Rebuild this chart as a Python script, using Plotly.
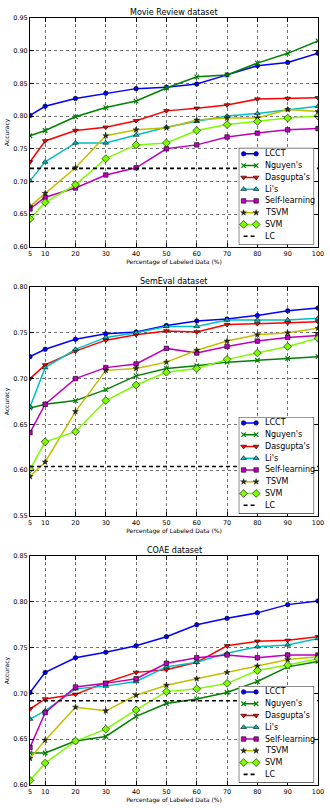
import plotly.graph_objects as go

# ---------------- data ----------------
x_pct = [5, 10, 20, 30, 40, 50, 60, 70, 80, 90, 100]
x_tick_vals = [5, 10, 20, 30, 40, 50, 60, 70, 80, 90, 100]

method_names = ["LCCT", "Nguyen's", "Dasgupta's", "Li's", "Self-learning", "TSVM", "SVM"]
baseline_name = "LC"

movie_lcct = [0.801, 0.815, 0.827, 0.835, 0.842, 0.844, 0.849, 0.863, 0.877, 0.882, 0.896]
movie_nguyen = [0.770, 0.778, 0.799, 0.813, 0.823, 0.843, 0.860, 0.863, 0.881, 0.896, 0.915]
movie_dasgupta = [0.730, 0.762, 0.778, 0.783, 0.793, 0.808, 0.812, 0.817, 0.826, 0.827, 0.828]
movie_li = [0.701, 0.730, 0.759, 0.759, 0.771, 0.783, 0.792, 0.800, 0.804, 0.810, 0.815]
movie_self = [0.658, 0.676, 0.690, 0.710, 0.721, 0.750, 0.756, 0.768, 0.774, 0.779, 0.781]
movie_tsvm = [0.662, 0.682, 0.721, 0.770, 0.779, 0.782, 0.794, 0.797, 0.797, 0.810, 0.807]
movie_svm = [0.643, 0.668, 0.695, 0.735, 0.756, 0.759, 0.778, 0.787, 0.792, 0.797, 0.800]
movie_lc = 0.720

semeval_lcct = [0.724, 0.732, 0.743, 0.749, 0.751, 0.758, 0.763, 0.765, 0.769, 0.774, 0.777]
semeval_nguyen = [0.668, 0.672, 0.676, 0.688, 0.703, 0.711, 0.714, 0.718, 0.720, 0.722, 0.724]
semeval_dasgupta = [0.700, 0.715, 0.730, 0.742, 0.748, 0.752, 0.751, 0.759, 0.760, 0.761, 0.762]
semeval_li = [0.669, 0.712, 0.732, 0.745, 0.750, 0.757, 0.757, 0.764, 0.764, 0.764, 0.766]
semeval_self = [0.641, 0.672, 0.700, 0.712, 0.716, 0.733, 0.728, 0.735, 0.741, 0.745, 0.747]
semeval_tsvm = [0.593, 0.609, 0.664, 0.709, 0.711, 0.718, 0.731, 0.741, 0.748, 0.750, 0.755]
semeval_svm = [0.601, 0.631, 0.642, 0.676, 0.693, 0.707, 0.711, 0.721, 0.728, 0.735, 0.744]
semeval_lc = 0.604

coae_lcct = [0.701, 0.723, 0.739, 0.745, 0.752, 0.762, 0.775, 0.782, 0.788, 0.797, 0.801]
coae_nguyen = [0.635, 0.635, 0.648, 0.653, 0.675, 0.689, 0.694, 0.701, 0.713, 0.729, 0.735]
coae_dasgupta = [0.683, 0.694, 0.699, 0.712, 0.723, 0.726, 0.734, 0.752, 0.757, 0.758, 0.762]
coae_li = [0.672, 0.681, 0.705, 0.708, 0.713, 0.729, 0.734, 0.744, 0.751, 0.753, 0.760]
coae_self = [0.641, 0.679, 0.707, 0.711, 0.716, 0.733, 0.739, 0.742, 0.739, 0.742, 0.742]
coae_tsvm = [0.629, 0.649, 0.685, 0.681, 0.698, 0.709, 0.716, 0.723, 0.730, 0.737, 0.740]
coae_svm = [0.605, 0.624, 0.648, 0.661, 0.682, 0.702, 0.705, 0.711, 0.725, 0.731, 0.738]
coae_lc = 0.692

dataset_titles = ["Movie Review dataset", "SemEval dataset", "COAE dataset"]
dataset_series = [
    [movie_lcct, movie_nguyen, movie_dasgupta, movie_li, movie_self, movie_tsvm, movie_svm],
    [semeval_lcct, semeval_nguyen, semeval_dasgupta, semeval_li, semeval_self, semeval_tsvm, semeval_svm],
    [coae_lcct, coae_nguyen, coae_dasgupta, coae_li, coae_self, coae_tsvm, coae_svm],
]
dataset_lc = [movie_lc, semeval_lc, coae_lc]
dataset_yranges = [(0.60, 0.95), (0.55, 0.80), (0.60, 0.85)]

x_title = "Percentage of Labeled Data (%)"
y_title = "Accuracy"

# ---------------- styles ----------------
colors = ["#0000ff", "#008000", "#ff0000", "#00bfbf", "#bf00bf", "#bfbf00", "#7cfc00"]
symbols = ["circle", "x-thin", "triangle-down", "triangle-up", "square", "star", "diamond"]
msizes = [4.5, 4.5, 5, 5, 4.5, 4.5, 6]
FONT = "DejaVu Sans"

W, H = 330, 808
ML, MR, MT, MB = 26, 6, 18, 21
PH = H - MT - MB
plot_h = 229.5
gap = (PH - 3 * plot_h) / 2

# legend box geometry (pixels, relative to plot area)
plot_w = W - ML - MR
leg_left, leg_right = 216, 294
leg_bottom, leg_top = 2.3, 99.3
leg_h = leg_top - leg_bottom
leg_pad_top, leg_step = 6.0, 11.8
leg_x0, leg_x1, leg_xt = 5 / 78, 18 / 78, 25.5 / 78


def marker_for(i):
    if symbols[i] == "x-thin":
        return dict(symbol="x-thin", size=msizes[i], color=colors[i],
                    line=dict(color=colors[i], width=1.2))
    if symbols[i] == "star":
        return dict(symbol="star", size=msizes[i], color="#2b2b10",
                    line=dict(color="black", width=0.4))
    return dict(symbol=symbols[i], size=msizes[i], color=colors[i],
                line=dict(color="black", width=0.6))


fig = go.Figure()
annotations = []
shapes = []
layout_axes = {}

for k in range(3):
    top_px = k * (plot_h + gap)
    y1 = 1 - top_px / PH
    y0 = y1 - plot_h / PH
    sx = "" if k == 0 else str(k + 1)
    xa, ya = "x" + sx, "y" + sx
    lo, hi = dataset_yranges[k]

    for i, vals in enumerate(dataset_series[k]):
        fig.add_trace(go.Scatter(
            x=x_pct, y=vals, xaxis=xa, yaxis=ya, name=method_names[i],
            mode="lines+markers", showlegend=False,
            line=dict(color=colors[i], width=1.5),
            marker=marker_for(i),
        ))
    fig.add_trace(go.Scatter(
        x=[x_pct[0], x_pct[-1]], y=[dataset_lc[k]] * 2, xaxis=xa, yaxis=ya,
        name=baseline_name, mode="lines", showlegend=False,
        line=dict(color="black", width=1.6, dash="4px,3px"),
    ))

    common = dict(
        showline=True, linecolor="black", linewidth=1, mirror="ticks",
        ticks="inside", ticklen=4, tickwidth=0.8, tickcolor="black",
        showgrid=True, gridcolor="rgba(0,0,0,0.55)", gridwidth=0.7, griddash="dot",
        zeroline=False, tickfont=dict(family=FONT, size=6.5, color="black"),
    )
    layout_axes["xaxis" + sx] = dict(
        common, domain=[0, 1], anchor=ya, range=[x_pct[0], x_pct[-1]],
        tickmode="array", tickvals=x_tick_vals, ticktext=[str(v) for v in x_tick_vals],
        title=dict(text=x_title, font=dict(family=FONT, size=6, color="black"), standoff=2),
    )
    layout_axes["yaxis" + sx] = dict(
        common, domain=[y0, y1], anchor=xa, range=[lo, hi],
        tick0=lo, dtick=0.05, tickformat=".2f",
        title=dict(text=y_title, font=dict(family=FONT, size=6, color="black"), standoff=3),
    )
    annotations.append(dict(
        text=dataset_titles[k], x=0.5, y=y1, xref="paper", yref="paper",
        xanchor="center", yanchor="bottom", showarrow=False, yshift=-1,
        font=dict(family=FONT, size=8, color="black"),
    ))

    # legend in its own overlay axes
    ln = str(4 + k)
    lxa, lya = "x" + ln, "y" + ln
    ly0 = y0 + leg_bottom / PH
    ly1 = y0 + leg_top / PH
    layout_axes["xaxis" + ln] = dict(domain=[leg_left / plot_w, leg_right / plot_w],
                                     range=[0, 1], visible=False, anchor=lya, fixedrange=True)
    layout_axes["yaxis" + ln] = dict(domain=[ly0, ly1], range=[0, 1], visible=False,
                                     anchor=lxa, fixedrange=True)
    shapes.append(dict(type="rect", xref=lxa, yref=lya, x0=0, x1=1, y0=0, y1=1,
                       fillcolor="white", line=dict(color="black", width=1), layer="below"))
    entry_names = method_names + [baseline_name]
    for i, nm in enumerate(entry_names):
        yy = 1 - (leg_pad_top + leg_step * i) / leg_h
        if i < len(method_names):
            fig.add_trace(go.Scatter(
                x=[leg_x0, leg_x1], y=[yy, yy], xaxis=lxa, yaxis=lya, mode="lines+markers",
                showlegend=False, hoverinfo="skip", cliponaxis=False,
                line=dict(color=colors[i], width=1.5), marker=marker_for(i),
            ))
        else:
            fig.add_trace(go.Scatter(
                x=[leg_x0, leg_x1], y=[yy, yy], xaxis=lxa, yaxis=lya, mode="lines",
                showlegend=False, hoverinfo="skip", cliponaxis=False,
                line=dict(color="black", width=1.6, dash="4px,3px"),
            ))
        annotations.append(dict(
            text=nm, x=leg_xt, y=yy, xref=lxa, yref=lya, xanchor="left", yanchor="middle",
            showarrow=False, font=dict(family=FONT, size=8, color="black"),
        ))

fig.update_layout(
    width=W, height=H, autosize=False,
    margin=dict(l=ML, r=MR, t=MT, b=MB, pad=0),
    paper_bgcolor="white", plot_bgcolor="white",
    font=dict(family=FONT, color="black"),
    annotations=annotations, shapes=shapes, showlegend=False,
    **layout_axes,
)

fig.write_html("out.html")
